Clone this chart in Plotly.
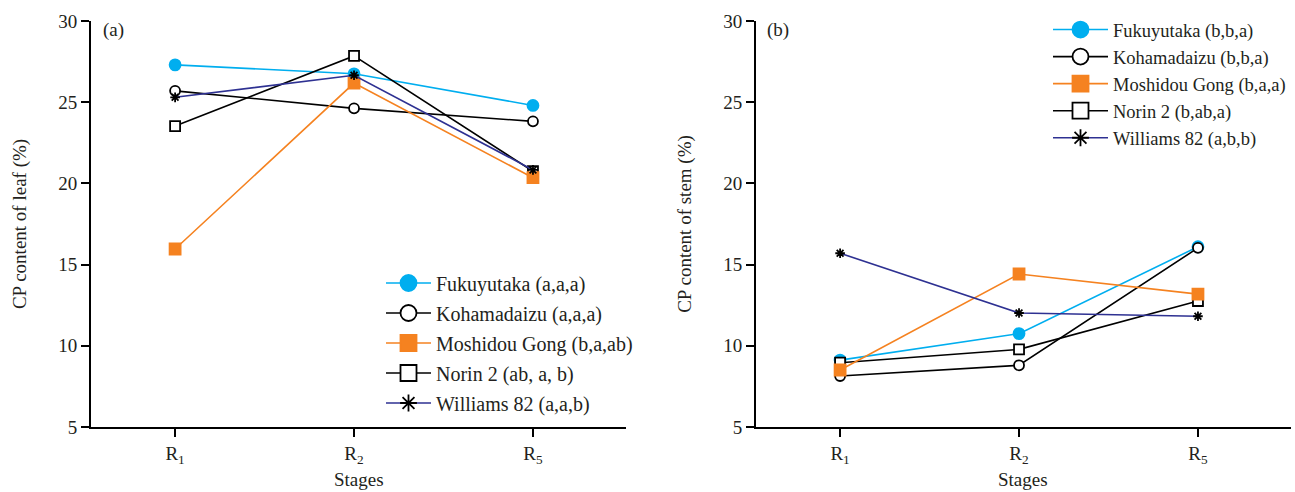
import plotly.graph_objects as go

stages = ["R1", "R2", "R5"]
stage_labels = ["R<sub>1</sub>", "R<sub>2</sub>", "R<sub>5</sub>"]
y_ticks = [5, 10, 15, 20, 25, 30]

varieties = ["Fukuyutaka", "Kohamadaizu", "Moshidou Gong", "Norin 2", "Williams 82"]

# CP content of leaf (%)
leaf_fukuyutaka = [27.3, 26.75, 24.8]
leaf_kohamadaizu = [25.7, 24.62, 23.82]
leaf_moshidou = [15.96, 26.18, 20.35]
leaf_norin = [23.53, 27.85, 20.75]
leaf_williams = [25.3, 26.66, 20.83]

# CP content of stem (%)
stem_fukuyutaka = [9.12, 10.75, 16.1]
stem_kohamadaizu = [8.14, 8.8, 16.03]
stem_moshidou = [8.51, 14.42, 13.18]
stem_norin = [8.96, 9.78, 12.76]
stem_williams = [15.7, 12.02, 11.82]

leaf_legend = ["Fukuyutaka (a,a,a)", "Kohamadaizu (a,a,a)", "Moshidou Gong (b,a,ab)",
               "Norin 2 (ab, a, b)", "Williams 82 (a,a,b)"]
stem_legend = ["Fukuyutaka (b,b,a)", "Kohamadaizu (b,b,a)", "Moshidou Gong (b,a,a)",
               "Norin 2 (b,ab,a)", "Williams 82 (a,b,b)"]

leaf_data = [leaf_fukuyutaka, leaf_kohamadaizu, leaf_moshidou, leaf_norin, leaf_williams]
stem_data = [stem_fukuyutaka, stem_kohamadaizu, stem_moshidou, stem_norin, stem_williams]

styles = [
    dict(line="#00AEEF", symbol="circle", fill="#00AEEF", mline="#00AEEF", size=11),
    dict(line="#000000", symbol="circle", fill="#FFFFFF", mline="#000000", size=10),
    dict(line="#F58220", symbol="square", fill="#F58220", mline="#F58220", size=11),
    dict(line="#000000", symbol="square", fill="#FFFFFF", mline="#000000", size=10),
    dict(line="#2E3192", symbol="asterisk", fill="#000000", mline="#000000", size=8),
]
draw_order = [0, 1, 3, 2, 4]

W, H = 1295, 492
FONT = "Liberation Serif"
TXT = "#231F20"

fig = go.Figure()

def add_panel(data, legend_names, xa, ya, legend_id):
    for i in draw_order:
        s = styles[i]
        fig.add_trace(go.Scatter(
            x=stages, y=data[i], mode="lines+markers", xaxis=xa, yaxis=ya,
            line=dict(color=s["line"], width=1.6),
            marker=dict(symbol=s["symbol"], size=s["size"], color=s["fill"],
                        line=dict(color=s["mline"], width=1.8)),
            showlegend=False, hoverinfo="skip"))
    for i in range(5):
        s = styles[i]
        fig.add_trace(go.Scatter(
            x=[None], y=[None], mode="lines+markers", xaxis=xa, yaxis=ya,
            name=legend_names[i], legend=legend_id, legendgroup=legend_id + str(i),
            line=dict(color=s["line"], width=1.6),
            marker=dict(symbol=s["symbol"], size=16 if s["symbol"] != "asterisk" else 14,
                        color=s["fill"], line=dict(color=s["mline"], width=1.8)),
            showlegend=True))

add_panel(leaf_data, leaf_legend, "x", "y", "legend")
add_panel(stem_data, stem_legend, "x2", "y2", "legend2")

ydom = [(H - 427) / H, (H - 21) / H]
xdom1 = [91 / W, 626 / W]
xdom2 = [756 / W, 1291 / W]
axis_common = dict(showline=True, linecolor="black", linewidth=2, ticks="outside",
                   ticklen=8, tickwidth=2, tickcolor="black", showgrid=False,
                   zeroline=False, automargin=False,
                   tickfont=dict(family=FONT, size=19, color=TXT))
title_font = dict(family=FONT, size=19, color=TXT)

def text_ann(text, x, y, xanchor="center"):
    return dict(text=text, x=x, y=y, xref="paper", yref="paper",
                xanchor=xanchor, yanchor="middle", showarrow=False,
                font=dict(family=FONT, size=19, color=TXT))

fig.update_layout(
    width=W, height=H, margin=dict(l=0, r=0, t=0, b=0, autoexpand=False),
    paper_bgcolor="white", plot_bgcolor="white",
    font=dict(family=FONT, color=TXT),
    xaxis=dict(domain=xdom1, anchor="y", type="category",
               categoryorder="array", categoryarray=stages,
               tickvals=stages, ticktext=stage_labels, range=[-0.47, 2.52],
               **axis_common),
    yaxis=dict(domain=ydom, anchor="x", range=[5, 30], tickvals=y_ticks,
               title=dict(text="CP content of leaf (%)", font=title_font, standoff=27),
               **axis_common),
    xaxis2=dict(domain=xdom2, anchor="y2", type="category",
                categoryorder="array", categoryarray=stages,
                tickvals=stages, ticktext=stage_labels, range=[-0.47, 2.52],
                **axis_common),
    yaxis2=dict(domain=ydom, anchor="x2", range=[5, 30], tickvals=y_ticks,
                title=dict(text="CP content of stem (%)", font=title_font, standoff=27),
                **axis_common),
    legend=dict(x=381 / W, xanchor="left", y=(H - 263.5) / H, yanchor="top",
                bgcolor="rgba(0,0,0,0)", tracegroupgap=1, itemsizing="trace",
                itemwidth=45, font=dict(family=FONT, size=20, color=TXT)),
    legend2=dict(x=1048 / W, xanchor="left", y=(H - 11) / H, yanchor="top",
                 bgcolor="rgba(0,0,0,0)", tracegroupgap=0, itemsizing="trace",
                 itemwidth=55, font=dict(family=FONT, size=18.5, color=TXT)),
    annotations=[
        text_ann("(a)", 101 / W, (H - 30) / H, "left"),
        text_ann("(b)", 765 / W, (H - 30) / H, "left"),
        text_ann("Stages", sum(xdom1) / 2, (H - 479.5) / H),
        text_ann("Stages", sum(xdom2) / 2, (H - 479.5) / H),
    ],
)

fig.write_html("out.html")
